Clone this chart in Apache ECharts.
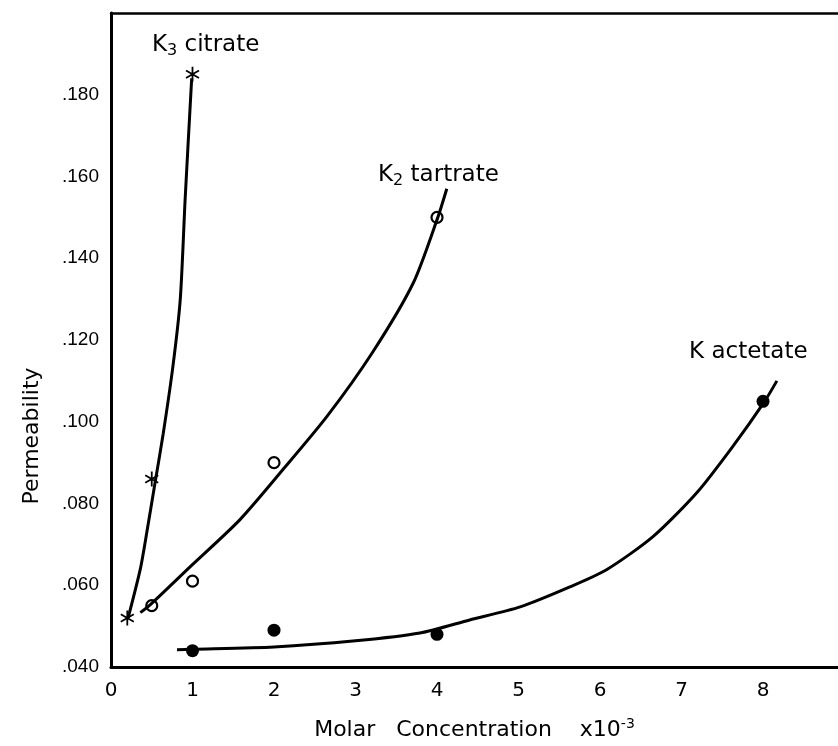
<!DOCTYPE html>
<html>
<head>
<meta charset="utf-8">
<script src="https://cdn.jsdelivr.net/npm/echarts@6/dist/echarts.min.js"></script>
<style>
  html, body { margin: 0; padding: 0; background: #fff; }
  #main { width: 838px; height: 746px; }
</style>
</head>
<body>
<div id="main"></div>
<script>
// measured points
const citrateX = [0.2, 0.5, 1.0];
const citrateY = [0.052, 0.086, 0.185];
const tartrateX = [0.5, 1, 2, 4];
const tartrateY = [0.055, 0.061, 0.090, 0.150];
const acetateX = [1, 2, 4, 8];
const acetateY = [0.044, 0.049, 0.048, 0.105];

// hand drawn fitted curves
const citrateCurveX = [0.21, 0.36, 0.44, 0.54, 0.64, 0.76, 0.85, 0.91, 0.99];
const citrateCurveY = [0.052, 0.064, 0.073, 0.085, 0.097, 0.1136, 0.130, 0.1546, 0.184];
const tartrateCurveX = [0.36, 0.48, 0.97, 1.58, 2.11, 2.65, 3.21, 3.71, 4.01, 4.12];
const tartrateCurveY = [0.0533, 0.0552, 0.0645, 0.076, 0.0883, 0.1013, 0.117, 0.134, 0.150, 0.157];
const acetateCurveX = [0.81, 1.0, 2.0, 3.0, 3.79, 4.40, 5.02, 5.63, 6.08, 6.65, 7.19, 7.63, 8.02, 8.17];
const acetateCurveY = [0.0442, 0.0443, 0.0449, 0.0464, 0.0483, 0.0515, 0.0547, 0.0596, 0.0638, 0.0719, 0.0827, 0.094, 0.105, 0.110];

// axis ticks
const xTicks = [0, 1, 2, 3, 4, 5, 6, 7, 8];
const yTicks = [0.04, 0.06, 0.08, 0.10, 0.12, 0.14, 0.16, 0.18];

const zip = (xs, ys) => xs.map((x, i) => [x, ys[i]]);

// asterisk marker (three bars)
const starPath = 'path://M-1.2,-10L1.2,-10L1.2,10L-1.2,10Z' +
  'M9.26,3.96L8.06,6.04L-9.26,-3.96L-8.06,-6.04Z' +
  'M8.06,-6.04L9.26,-3.96L-8.06,6.04L-9.26,3.96Z';

const labelFont = 'DejaVu Sans';

var myChart = echarts.init(document.getElementById('main'));

const curve = (name, xs, ys) => ({
  name: name,
  type: 'line',
  data: zip(xs, ys),
  smooth: 0.25,
  showSymbol: false,
  lineStyle: { color: '#000', width: 3 },
  z: 2
});

const option = {
  backgroundColor: '#fff',
  animation: false,
  grid: { left: 111, top: 13, right: 0, bottom: 79 },
  xAxis: [
    {
      type: 'value',
      min: 0, max: 8.92, interval: 1,
      axisLine: { lineStyle: { color: '#000', width: 3 } },
      axisTick: { show: false },
      splitLine: { show: false },
      axisLabel: {
        color: '#000', fontFamily: labelFont, fontSize: 20, margin: 14,
        showMaxLabel: false,
        formatter: v => (xTicks.indexOf(v) >= 0 ? String(v) : '')
      },
      name: '{t|Molar   Concentration    x10}{s|-3}',
      nameLocation: 'middle',
      nameGap: 50,
      nameTextStyle: {
        rich: {
          t: { fontFamily: labelFont, fontSize: 22, color: '#000' },
          s: { fontFamily: labelFont, fontSize: 14, color: '#000', verticalAlign: 'top', padding: [0, 0, 12, 0] }
        }
      }
    },
    {
      // top frame line
      type: 'value', position: 'top',
      min: 0, max: 8.92,
      axisLine: { show: true, lineStyle: { color: '#000', width: 2.5 } },
      axisTick: { show: false },
      axisLabel: { show: false },
      splitLine: { show: false }
    }
  ],
  yAxis: {
    type: 'value',
    min: 0.04, max: 0.2, interval: 0.02,
    axisLine: { show: true, lineStyle: { color: '#000', width: 3 } },
    axisTick: { show: false },
    splitLine: { show: false },
    axisLabel: {
      color: '#000', fontFamily: 'Liberation Sans', fontSize: 19, margin: 12,
      formatter: v => {
        const hit = yTicks.some(t => Math.abs(t - v) < 1e-9);
        return hit ? v.toFixed(3).replace(/^0/, '') : '';
      }
    }
  },
  graphic: [
    {
      type: 'text', x: 32, y: 436, rotation: Math.PI / 2,
      style: { text: 'Permeability', fontFamily: labelFont, fontSize: 22, fill: '#000', align: 'center', verticalAlign: 'middle' }
    },
    {
      type: 'text', left: 152, top: 34,
      style: {
        text: '{k|K}{s|3}{k| citrate}',
        rich: {
          k: { fontFamily: labelFont, fontSize: 23, fill: '#000' },
          s: { fontFamily: labelFont, fontSize: 16, fill: '#000', padding: [10, 0, 0, 0] }
        }
      }
    },
    {
      type: 'text', left: 378, top: 164,
      style: {
        text: '{k|K}{s|2}{k| tartrate}',
        rich: {
          k: { fontFamily: labelFont, fontSize: 23, fill: '#000' },
          s: { fontFamily: labelFont, fontSize: 16, fill: '#000', padding: [10, 0, 0, 0] }
        }
      }
    },
    {
      type: 'text', left: 689, top: 341,
      style: { text: 'K actetate', fontFamily: labelFont, fontSize: 23, fill: '#000' }
    }
  ],
  series: [
    curve('K3 citrate curve', citrateCurveX, citrateCurveY),
    curve('K2 tartrate curve', tartrateCurveX, tartrateCurveY),
    curve('K acetate curve', acetateCurveX, acetateCurveY),
    {
      name: 'K3 citrate', type: 'scatter', data: zip(citrateX, citrateY),
      symbol: starPath, symbolSize: 15, symbolKeepAspect: true,
      itemStyle: { color: '#000', opacity: 1 }, z: 3
    },
    {
      name: 'K2 tartrate', type: 'scatter', data: zip(tartrateX, tartrateY),
      symbol: 'circle', symbolSize: 11,
      itemStyle: { color: 'rgba(0,0,0,0)', borderColor: '#000', borderWidth: 2.2, opacity: 1 }, z: 3
    },
    {
      name: 'K acetate', type: 'scatter', data: zip(acetateX, acetateY),
      symbol: 'circle', symbolSize: 13,
      itemStyle: { color: '#000', opacity: 1 }, z: 3
    }
  ]
};

myChart.setOption(option);
</script>
</body>
</html>
